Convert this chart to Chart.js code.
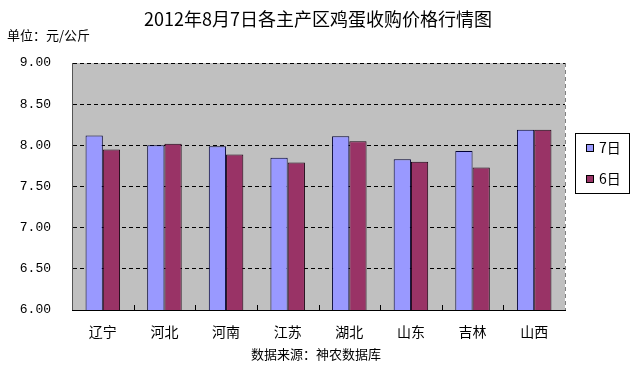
<!DOCTYPE html>
<html>
<head>
<meta charset="utf-8">
<script src="https://cdn.jsdelivr.net/npm/chart.js@4/dist/chart.umd.min.js"></script>
<style>
  html, body { margin: 0; padding: 0; background: #fff; }
  #wrap { width: 635px; height: 366px; }
</style>
</head>
<body>
<div id="wrap"><canvas id="barChart" width="635" height="366"></canvas></div>
<script>
// 各主产区鸡蛋收购价格 (元/公斤)
var regions = ['辽宁', '河北', '河南', '江苏', '湖北', '山东', '吉林', '山西'];
var price7 = [8.12, 8.00, 7.99, 7.85, 8.11, 7.83, 7.93, 8.19];
var price6 = [7.95, 8.02, 7.89, 7.79, 8.05, 7.80, 7.73, 8.19];
var seriesNames = ['7日', '6日'];
var yTicks = [6.00, 6.50, 7.00, 7.50, 8.00, 8.50, 9.00];

var cjk = '"Noto Sans CJK SC", sans-serif';

// 背景、标题、图例、刻度
var decor = {
	id: 'decor',
	beforeDraw: function (chart) {
		var ctx = chart.ctx, a = chart.chartArea;
		ctx.save();
		ctx.fillStyle = '#fff';
		ctx.fillRect(0, 0, chart.width, chart.height);
		ctx.fillStyle = '#c0c0c0';
		ctx.fillRect(a.left, a.top, a.right - a.left, a.bottom - a.top);
		ctx.restore();
	},
	afterDraw: function (chart) {
		var ctx = chart.ctx, a = chart.chartArea;
		ctx.save();
		// right border dashed
		ctx.strokeStyle = '#808080';
		ctx.setLineDash([4, 3]);
		ctx.beginPath();
		ctx.moveTo(a.right + 0.5, a.top);
		ctx.lineTo(a.right + 0.5, a.bottom);
		ctx.stroke();
		ctx.setLineDash([]);

		// category ticks on the bottom axis
		ctx.strokeStyle = '#000';
		var step = (a.right - a.left) / regions.length;
		for (var i = 1; i < regions.length; i++) {
			var px = Math.round(a.left + step * i) + 0.5;
			ctx.beginPath();
			ctx.moveTo(px, a.bottom);
			ctx.lineTo(px, a.bottom - 5);
			ctx.stroke();
		}

		// titles
		ctx.fillStyle = '#000';
		ctx.textBaseline = 'middle';
		ctx.textAlign = 'center';
		ctx.font = '18px ' + cjk;
		ctx.fillText('2012年8月7日各主产区鸡蛋收购价格行情图', 318, 19);
		ctx.textAlign = 'left';
		ctx.font = '13px ' + cjk;
		ctx.fillText('单位：元/公斤', 7, 35);
		ctx.textAlign = 'center';
		ctx.fillText('数据来源：神农数据库', 316, 354);

		// legend
		ctx.strokeStyle = '#000';
		ctx.lineWidth = 1;
		ctx.strokeRect(575.5, 133.5, 54, 60);
		ctx.font = '14px ' + cjk;
		ctx.textAlign = 'left';
		chart.data.datasets.forEach(function (ds, i) {
			var ly = 148 + i * 31;
			ctx.fillStyle = ds.backgroundColor;
			ctx.fillRect(586, ly - 4, 8, 8);
			ctx.strokeStyle = '#000';
			ctx.strokeRect(586.5, ly - 3.5, 7, 7);
			ctx.fillStyle = '#000';
			ctx.fillText(ds.label, 599, ly);
		});
		ctx.restore();
	}
};

var ctx = document.getElementById('barChart').getContext('2d');
var myBarChart = new Chart(ctx, {
	type: 'bar',
	data: {
		labels: regions,
		datasets: [{
			label: seriesNames[0],
			data: price7,
			backgroundColor: '#9999ff',
			borderColor: '#000033',
			borderWidth: 1,
			categoryPercentage: 0.56,
			barPercentage: 1.0
		}, {
			label: seriesNames[1],
			data: price6,
			backgroundColor: '#993366',
			borderColor: '#1a0010',
			borderWidth: 1,
			categoryPercentage: 0.56,
			barPercentage: 1.0
		}]
	},
	options: {
		responsive: false,
		animation: false,
		layout: { padding: { top: 63, right: 70, left: 0, bottom: 0 } },
		plugins: {
			legend: { display: false },
			title: { display: false },
			tooltip: { enabled: false }
		},
		scales: {
			x: {
				grid: { display: false },
				border: { display: true, color: '#000', width: 1 },
				ticks: {
					color: '#000',
					padding: 5,
					font: { family: cjk, size: 14 }
				},
				afterFit: function (scale) { scale.height = 56; }
			},
			y: {
				min: 6,
				max: 9,
				afterBuildTicks: function (scale) {
					scale.ticks = yTicks.map(function (v) { return { value: v }; });
				},
				grid: {
					color: '#000',
					drawTicks: false,
					lineWidth: function (c) { return c.tick && c.tick.value === 6 ? 0 : 1; }
				},
				// in v4 border.dash dashes the gridlines
				border: { display: true, color: '#555', width: 1, dash: [4, 3] },
				ticks: {
					color: '#000',
					padding: 21,
					font: { family: '"Liberation Mono", monospace', size: 13 },
					callback: function (v) { return Number(v).toFixed(2); }
				},
				afterFit: function (scale) { scale.width = 72; }
			}
		}
	},
	plugins: [decor]
});
</script>
</body>
</html>
